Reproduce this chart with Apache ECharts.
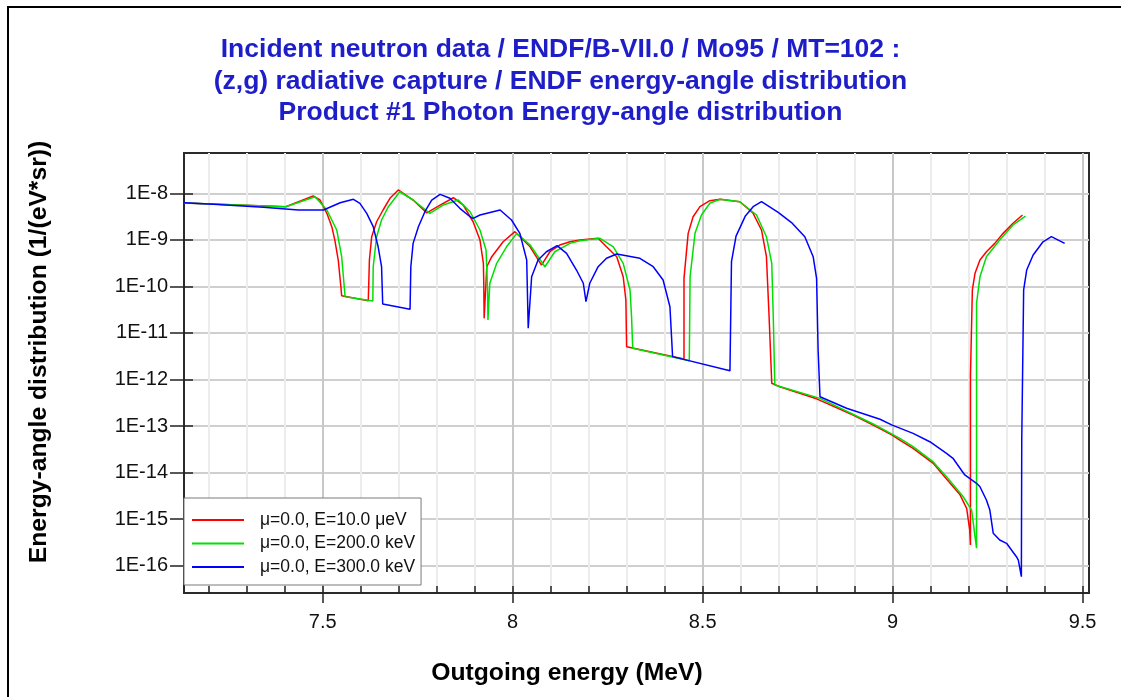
<!DOCTYPE html>
<html>
<head>
<meta charset="utf-8">
<script src="https://cdn.jsdelivr.net/npm/echarts@6/dist/echarts.min.js"></script>
<style>
html, body { margin: 0; padding: 0; background: #fff; }
#chart { width: 1121px; height: 697px; }
</style>
</head>
<body>
<div id="chart"></div>
<script>
var titleLines = [
    'Incident neutron data / ENDF/B-VII.0 / Mo95 / MT=102 :',
    '(z,g) radiative capture / ENDF energy-angle distribution',
    'Product #1 Photon Energy-angle distribution'
];
var xName = 'Outgoing energy (MeV)';
var yName = 'Energy-angle distribution (1/(eV*sr))';
var seriesNames = ['μ=0.0, E=10.0 μeV', 'μ=0.0, E=200.0 keV', 'μ=0.0, E=300.0 keV'];

// tick positions
var xTicks = [7.5, 8, 8.5, 9, 9.5];
var xMinorTicks = [7.2, 7.3, 7.4, 7.5, 7.6, 7.7, 7.8, 7.9, 8.0, 8.1, 8.2, 8.3, 8.4, 8.5,
    8.6, 8.7, 8.8, 8.9, 9.0, 9.1, 9.2, 9.3, 9.4, 9.5];
var yTicks = [1e-8, 1e-9, 1e-10, 1e-11, 1e-12, 1e-13, 1e-14, 1e-15, 1e-16];

// E=10.0 μeV
var energyRed = [7.135, 7.403, 7.475, 7.493, 7.511, 7.524, 7.532, 7.541, 7.547, 7.550,
    7.620, 7.623, 7.629, 7.642, 7.659, 7.677, 7.699, 7.738, 7.774, 7.809,
    7.844, 7.870, 7.896, 7.914, 7.923, 7.924, 7.925, 7.932, 7.945, 7.975,
    8.006, 8.046, 8.076, 8.098, 8.124, 8.151, 8.177, 8.225, 8.247, 8.274,
    8.291, 8.298, 8.300, 8.451, 8.451, 8.462, 8.475, 8.493, 8.519, 8.546,
    8.598, 8.633, 8.655, 8.668, 8.675, 8.682, 8.703, 8.800, 8.896, 8.949,
    8.999, 9.019, 9.054, 9.107, 9.142, 9.177, 9.195, 9.203, 9.205, 9.205,
    9.210, 9.210, 9.217, 9.230, 9.247, 9.269, 9.291, 9.317, 9.342];
var valueRed = [6.2e-9, 5.16e-9, 8.75e-9, 7.18e-9, 3.72e-9, 1.92e-9, 9.9e-10, 3.69e-10, 1.17e-10, 6.3e-11,
    4.93e-11, 3.69e-10, 1.17e-9, 2.45e-9, 4.38e-9, 7.81e-9, 1.18e-8, 7.18e-9, 3.8e-9, 5.6e-9,
    8.04e-9, 5.6e-9, 2.45e-9, 9.9e-10, 3.13e-10, 1.17e-10, 2.06e-11, 2.65e-10, 4.35e-10, 9.1e-10,
    1.5e-9, 7.1e-10, 2.88e-10, 5.56e-10, 7.75e-10, 9.1e-10, 9.9e-10, 1.08e-9, 7.1e-10, 4.35e-10,
    1.61e-10, 5.1e-11, 5.07e-12, 2.75e-12, 1.49e-10, 1.38e-9, 3.14e-9, 5.16e-9, 6.93e-9, 7.43e-9,
    6.6e-9, 3.72e-9, 1.63e-9, 4.35e-10, 2.23e-11, 8.3e-13, 7.0e-13, 3.85e-13, 1.73e-13, 1.05e-13,
    6.42e-14, 5.0e-14, 3.33e-14, 1.58e-14, 7.3e-15, 3.4e-15, 1.71e-15, 5.85e-16, 2.78e-16, 1.22e-12,
    1.22e-12, 8.4e-11, 1.91e-10, 3.69e-10, 5.56e-10, 8.4e-10, 1.38e-9, 2.27e-9, 3.42e-9];

// E=200.0 keV
var energyGreen = [7.135, 7.403, 7.480, 7.511, 7.537, 7.550, 7.556, 7.559, 7.632, 7.633,
    7.642, 7.655, 7.673, 7.703, 7.738, 7.782, 7.817, 7.857, 7.888, 7.914,
    7.930, 7.934, 7.935, 7.940, 7.958, 7.984, 8.011, 8.046, 8.085, 8.111,
    8.151, 8.177, 8.230, 8.265, 8.291, 8.309, 8.313, 8.316, 8.465, 8.467,
    8.480, 8.497, 8.519, 8.546, 8.598, 8.642, 8.668, 8.682, 8.686, 8.690,
    8.809, 8.949, 9.019, 9.054, 9.107, 9.142, 9.186, 9.208, 9.217, 9.221,
    9.221, 9.230, 9.247, 9.282, 9.317, 9.350];
var valueGreen = [6.2e-9, 5.16e-9, 8.45e-9, 4.38e-9, 1.63e-9, 4.35e-10, 1.17e-10, 6.0e-11, 4.85e-11, 2.65e-10,
    1.17e-9, 2.67e-9, 5.16e-9, 1.08e-8, 7.18e-9, 3.72e-9, 5.6e-9, 7.18e-9, 4.02e-9, 1.63e-9,
    6.05e-10, 8.4e-11, 1.9e-11, 1.17e-10, 3.13e-10, 7.1e-10, 1.38e-9, 7.75e-10, 2.65e-10, 5.56e-10,
    8.4e-10, 9.6e-10, 1.08e-9, 7.1e-10, 3.13e-10, 8.4e-11, 2.23e-11, 4.68e-12, 2.53e-12, 1.61e-10,
    1.38e-9, 3.42e-9, 6.1e-9, 7.43e-9, 6.6e-9, 3.42e-9, 1.17e-9, 3.13e-10, 2.23e-11, 7.6e-13,
    3.94e-13, 1.11e-13, 5.46e-14, 3.6e-14, 1.7e-14, 8.2e-15, 3.03e-15, 1.57e-15, 4.2e-16, 2.37e-16,
    4.33e-11, 1.61e-10, 4.35e-10, 9.9e-10, 2.09e-9, 3.25e-9];

// E=300.0 keV
var energyBlue = [7.135, 7.212, 7.344, 7.436, 7.502, 7.546, 7.581, 7.598, 7.616, 7.633,
    7.646, 7.655, 7.658, 7.730, 7.732, 7.738, 7.752, 7.769, 7.787, 7.809,
    7.835, 7.861, 7.888, 7.896, 7.914, 7.967, 7.997, 8.019, 8.037, 8.041,
    8.050, 8.067, 8.089, 8.117, 8.142, 8.168, 8.186, 8.193, 8.203, 8.225,
    8.247, 8.274, 8.335, 8.370, 8.396, 8.414, 8.421, 8.572, 8.576, 8.588,
    8.612, 8.633, 8.655, 8.699, 8.734, 8.769, 8.791, 8.800, 8.804, 8.809,
    8.879, 8.967, 8.999, 9.054, 9.098, 9.142, 9.159, 9.190, 9.221, 9.230,
    9.247, 9.256, 9.265, 9.282, 9.300, 9.313, 9.326, 9.331, 9.339, 9.340,
    9.345, 9.345, 9.353, 9.370, 9.396, 9.418, 9.453];
var valueBlue = [6.28e-9, 5.8e-9, 5.0e-9, 4.38e-9, 4.38e-9, 6.28e-9, 7.43e-9, 6.1e-9, 3.72e-9, 1.92e-9,
    7.1e-10, 2.65e-10, 4.19e-11, 3.22e-11, 2.65e-10, 8.4e-10, 1.92e-9, 4.02e-9, 7.18e-9, 9.5e-9,
    7.81e-9, 4.76e-9, 3.14e-9, 2.9e-9, 3.42e-9, 4.38e-9, 2.67e-9, 1.38e-9, 3.69e-10, 1.26e-11,
    1.61e-10, 3.69e-10, 5.56e-10, 7.5e-10, 5.14e-10, 2.25e-10, 1.17e-10, 4.69e-11, 1.17e-10, 2.65e-10,
    4.02e-10, 4.96e-10, 4.02e-10, 2.65e-10, 1.37e-10, 3.66e-11, 3.1e-12, 1.55e-12, 3.4e-10, 1.2e-9,
    3.2e-9, 5.16e-9, 6.6e-9, 3.9e-9, 2.35e-9, 1.17e-9, 4.35e-10, 1.49e-10, 4.3e-12, 4.27e-13,
    2.41e-13, 1.4e-13, 1.05e-13, 6.98e-14, 4.61e-14, 2.6e-14, 2.03e-14, 8.9e-15, 5.89e-15, 4.98e-15,
    2.58e-15, 1.57e-15, 4.97e-16, 3.56e-16, 3.03e-16, 2.17e-16, 1.56e-16, 1.32e-16, 5.8e-17, 5.0e-14,
    5.0e-14, 8.4e-11, 2.25e-10, 4.73e-10, 9.1e-10, 1.17e-9, 8.4e-10];

var FONT = 'Liberation Sans, Arial, sans-serif';
var X_MIN = 7.135, X_MAX = 9.517;
var Y_MIN = -16.586, Y_MAX = -7.134;   // log10 range of the plot box

function toPairs(energy, value) {
    return energy.map(function (e, i) { return [e, Math.log10(value[i])]; });
}
var yTickExp = yTicks.map(function (v) { return Math.round(Math.log10(v)); });

var chart = echarts.init(document.getElementById('chart'), null, { renderer: 'canvas' });
var option = {
    backgroundColor: '#fff',
    animation: false,
    color: ['#ff0000', '#00e000', '#0000ff'],
    title: {
        text: titleLines.join('\n'),
        left: 'center',
        top: 34,
        padding: 0,
        textStyle: {
            fontFamily: FONT,
            fontSize: 26.5,
            fontWeight: 'bold',
            color: '#1e1ec8',
            lineHeight: 31.5
        }
    },
    grid: {
        left: 184, right: 32, top: 153, bottom: 104,
        show: true,
        borderColor: '#2a2a2a',
        borderWidth: 2
    },
    legend: {
        orient: 'vertical',
        left: 184, top: 498,
        data: seriesNames,
        icon: 'rect',
        itemWidth: 52,
        itemHeight: 2,
        itemGap: 5.5,
        padding: [13, 6, 9, 8],
        backgroundColor: '#fff',
        borderColor: '#7a7a7a',
        borderWidth: 1,
        selectedMode: false,
        textStyle: { fontFamily: FONT, fontSize: 17.5, color: '#111', padding: [0, 0, 0, 11] }
    },
    xAxis: [{
        // minor ticks / light grid every 0.1
        type: 'value', min: X_MIN, max: X_MAX, position: 'bottom',
        axisLine: { show: false },
        axisLabel: { show: false },
        axisTick: { show: true, inside: true, length: 7, customValues: xMinorTicks,
            lineStyle: { color: '#222', width: 1.5 } },
        splitLine: { show: true, lineStyle: { color: '#ececec', width: 2 } }
    }, {
        type: 'value', min: X_MIN, max: X_MAX, position: 'bottom',
        axisLine: { show: true, lineStyle: { color: '#2a2a2a', width: 2 } },
        axisTick: { show: true, inside: false, length: 10, customValues: xTicks,
            lineStyle: { color: '#222', width: 1.5 } },
        axisLabel: { customValues: xTicks, fontFamily: FONT, fontSize: 20, color: '#111', margin: 19,
            formatter: function (v) { return String(v); } },
        splitLine: { show: true, lineStyle: { color: '#c8c8c8', width: 2 } }
    }],
    yAxis: [{
        type: 'value', min: Y_MIN, max: Y_MAX, position: 'left',
        axisLine: { show: true, lineStyle: { color: '#2a2a2a', width: 2 } },
        axisTick: { show: true, inside: false, length: 14, customValues: yTickExp,
            lineStyle: { color: '#222', width: 1.5 } },
        axisLabel: { customValues: yTickExp, fontFamily: FONT, fontSize: 20, color: '#111', margin: 16,
            formatter: function (v) { return '1E' + Math.round(v); } },
        splitLine: { show: true, lineStyle: { color: '#cfcfcf', width: 2 } }
    }, {
        type: 'value', min: Y_MIN, max: Y_MAX, position: 'left',
        axisLine: { show: false },
        axisLabel: { show: false },
        axisTick: { show: true, inside: true, length: 9, customValues: yTickExp,
            lineStyle: { color: '#222', width: 1.5 } },
        splitLine: { show: false }
    }],
    graphic: [{
        type: 'rect', silent: true,
        shape: { x: 8, y: 7, width: 1300, height: 900 },
        style: { fill: 'none', stroke: '#000', lineWidth: 2 }
    }, {
        type: 'text', x: 567, y: 673, silent: true,
        style: { text: xName, fontFamily: FONT, fontSize: 24.7, fontWeight: 'bold', fill: '#000',
            align: 'center', verticalAlign: 'middle' }
    }, {
        type: 'text', x: 39, y: 352, rotation: Math.PI / 2, silent: true,
        style: { text: yName, fontFamily: FONT, fontSize: 24.7, fontWeight: 'bold', fill: '#000',
            align: 'center', verticalAlign: 'middle' }
    }],
    series: [
        { name: seriesNames[0], type: 'line', xAxisIndex: 1, yAxisIndex: 0, showSymbol: false,
          lineStyle: { width: 1.5 }, data: toPairs(energyRed, valueRed) },
        { name: seriesNames[1], type: 'line', xAxisIndex: 1, yAxisIndex: 0, showSymbol: false,
          lineStyle: { width: 1.5 }, data: toPairs(energyGreen, valueGreen) },
        { name: seriesNames[2], type: 'line', xAxisIndex: 1, yAxisIndex: 0, showSymbol: false,
          lineStyle: { width: 1.5 }, data: toPairs(energyBlue, valueBlue) }
    ]
};
chart.setOption(option);
</script>
</body>
</html>
